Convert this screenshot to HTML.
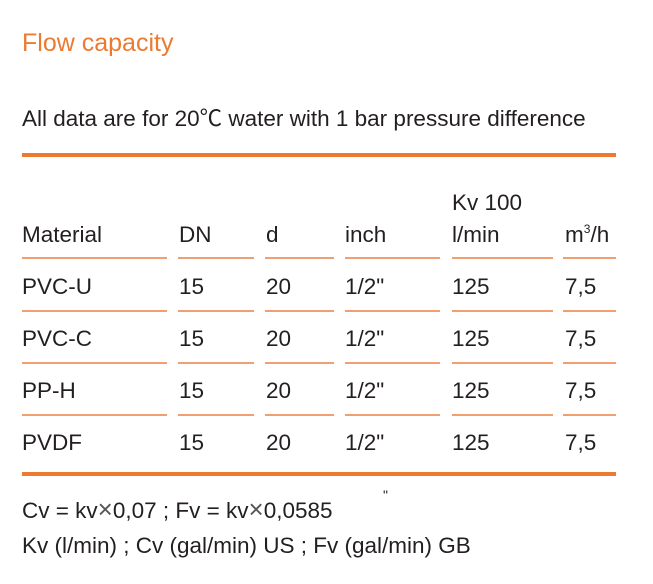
<!DOCTYPE html>
<html><head><meta charset="utf-8"><style>
body{margin:0;width:653px;height:584px;background:#fff;font-family:"Liberation Sans","Noto Sans CJK SC",sans-serif;color:#231f20;position:relative;overflow:hidden}
.t{position:absolute;white-space:nowrap;font-size:22.5px;line-height:22px}
.t sup{font-size:12px;line-height:0;vertical-align:9px}
.ln{position:absolute;height:1.5px;background:#f0a070}
.thick{position:absolute;left:22px;width:594px;height:4px;background:#ec7a30}
</style></head><body>
<div class="t" style="left:22px;top:31px;font-size:25px;line-height:25px;color:#ec7a30">Flow capacity</div>
<div class="t" style="left:22px;top:108px">All data are for 20℃ water with 1 bar pressure difference</div>
<div class="thick" style="top:153px"></div>
<div class="t" style="left:452px;top:192px">Kv 100</div>
<div id="tbl"></div>
<div class="thick" style="top:472px"></div>
<div class="t" style="left:383px;top:484px;font-size:14px">"</div>
<div class="t" style="left:22px;top:498px">Cv = kv<span style="font-size:26px;color:#555">×</span>0,07 ; Fv = kv<span style="font-size:26px;color:#555">×</span>0,0585</div>
<div class="t" style="left:22px;top:535px">Kv (l/min) ; Cv (gal/min) US ; Fv (gal/min) GB</div>
<script>
const headers=["Material","DN","d","inch","l/min","m<sup>3</sup>/h"];
const materials=["PVC-U","PVC-C","PP-H","PVDF"];
const dn=["15","15","15","15"];
const dd=["20","20","20","20"];
const inch=['1/2"','1/2"','1/2"','1/2"'];
const kv=["125","125","125","125"];
const m3h=["7,5","7,5","7,5","7,5"];
const colX=[22,179,266,345,452,565];
const segs=[[22,167],[178,254],[265,334],[345,440],[452,553],[563,616]];
const t=document.getElementById('tbl');
function txt(x,y,h,name){const d=document.createElement('div');d.className='t';d.style.left=x+'px';d.style.top=y+'px';d.innerHTML=h;


t.appendChild(d);}
function line(y,name){segs.forEach((s,i)=>{const l=document.createElement('div');l.className='ln';l.style.left=s[0]+'px';l.style.width=(s[1]-s[0])+'px';l.style.top=y+'px';


t.appendChild(l);});}
headers.forEach((h,i)=>txt(colX[i],224,h,'header-'+i));
line(257,'header-rule');
materials.forEach((m,r)=>{const y=276+r*52;
const vals=[m,dn[r],dd[r],inch[r],kv[r],m3h[r]];
vals.forEach((v,i)=>txt(colX[i],y,v,'cell-'+r+'-'+i));
if(r<3)line(310+r*52,'row-rule-'+r);});
</script>
</body></html>
